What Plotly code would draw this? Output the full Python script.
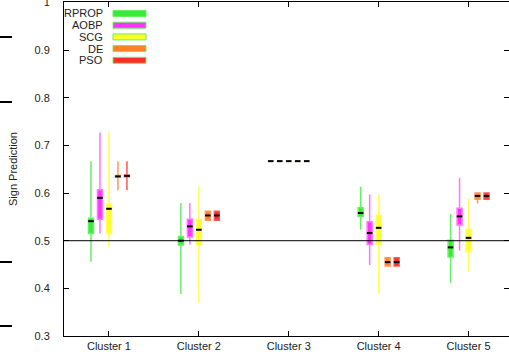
import plotly.graph_objects as go

clusters = ["Cluster 1", "Cluster 2", "Cluster 3", "Cluster 4", "Cluster 5"]
methods = ["RPROP", "AOBP", "SCG", "DE", "PSO"]
colors = ["#33ee33", "#ff33ff", "#ffff22", "#ff7f2a", "#ff2a2a"]
line_colors = ["#66f066", "#ff77ff", "#ffff55", "#ff9955", "#ff5555"]

# per method: values per cluster
lower = {
    "RPROP": [0.456, 0.388, 0.667, 0.523, 0.412],
    "AOBP":  [0.515, 0.492, 0.667, 0.449, 0.479],
    "SCG":   [0.486, 0.370, 0.667, 0.389, 0.435],
    "DE":    [0.606, 0.543, 0.667, 0.447, 0.578],
    "PSO":   [0.606, 0.543, 0.667, 0.447, 0.587],
}
q1 = {
    "RPROP": [0.515, 0.491, 0.667, 0.551, 0.466],
    "AOBP":  [0.545, 0.508, 0.667, 0.492, 0.533],
    "SCG":   [0.515, 0.491, 0.667, 0.492, 0.477],
    "DE":    [0.633, 0.543, 0.667, 0.447, 0.587],
    "PSO":   [0.634, 0.543, 0.667, 0.447, 0.587],
}
median = {
    "RPROP": [0.541, 0.500, 0.667, 0.558, 0.486],
    "AOBP":  [0.590, 0.530, 0.667, 0.516, 0.551],
    "SCG":   [0.567, 0.523, 0.667, 0.527, 0.506],
    "DE":    [0.635, 0.553, 0.667, 0.455, 0.594],
    "PSO":   [0.636, 0.553, 0.667, 0.455, 0.594],
}
q3 = {
    "RPROP": [0.547, 0.509, 0.667, 0.569, 0.501],
    "AOBP":  [0.607, 0.545, 0.667, 0.540, 0.568],
    "SCG":   [0.577, 0.545, 0.667, 0.553, 0.524],
    "DE":    [0.637, 0.562, 0.667, 0.464, 0.600],
    "PSO":   [0.638, 0.562, 0.667, 0.464, 0.600],
}
upper = {
    "RPROP": [0.667, 0.579, 0.667, 0.613, 0.556],
    "AOBP":  [0.727, 0.579, 0.667, 0.597, 0.632],
    "SCG":   [0.727, 0.614, 0.667, 0.597, 0.588],
    "DE":    [0.667, 0.562, 0.667, 0.464, 0.600],
    "PSO":   [0.667, 0.562, 0.667, 0.464, 0.600],
}
offsets = [-0.2, -0.1, 0.0, 0.1, 0.2]
y_ticks = [0.3, 0.4, 0.5, 0.6, 0.7, 0.8, 0.9, 1.0]
y_tick_labels = ["0.3", "0.4", "0.5", "0.6", "0.7", "0.8", "0.9", "1"]

FONT = "Liberation Sans, Arial, sans-serif"
fig = go.Figure()

for m, off, c, lc in zip(methods, offsets, colors, line_colors):
    xs = [i + 1 + off for i in range(len(clusters))]
    fig.add_trace(go.Box(
        x=xs, q1=q1[m], median=median[m], q3=q3[m],
        lowerfence=lower[m], upperfence=upper[m],
        width=0.055, whiskerwidth=0, fillcolor=c,
        line=dict(color=lc, width=1.5), boxpoints=False,
        showlegend=False, name=m, hoverinfo="skip",
    ))
    fig.add_trace(go.Scatter(
        x=xs, y=median[m], mode="markers",
        marker=dict(symbol="line-ew", size=4, line=dict(color="black", width=2)),
        showlegend=False, hoverinfo="skip",
    ))

# horizontal reference line at 0.5
fig.add_hline(y=0.5, line=dict(color="black", width=1))

# custom legend (text left of swatch, like the original)
shapes = []
annotations = []
ax_w, ax_h = 445.0, 334.0
for k, (m, c) in enumerate(zip(methods, colors)):
    yc = 336 - (13.5 + 11.7 * k)  # pixel from bottom
    yp = yc / ax_h
    annotations.append(dict(
        x=(105 - 64) / ax_w, y=yp, xref="paper", yref="paper", text=m,
        showarrow=False, xanchor="right", yanchor="middle",
        font=dict(family=FONT, size=11, color="#222")))
    shapes.append(dict(
        type="rect", xref="paper", yref="paper",
        x0=(113 - 64) / ax_w, x1=(146 - 64) / ax_w,
        y0=(yc - 3) / ax_h, y1=(yc + 3) / ax_h,
        fillcolor=c, line=dict(color="#66ee66", width=1)))

# stray marks at the left edge of the original image
for yy in [37, 102, 262, 326]:
    yp = (336 - yy) / ax_h
    shapes.append(dict(type="line", xref="paper", yref="paper",
                       x0=-64 / ax_w, x1=(12 - 64) / ax_w, y0=yp, y1=yp,
                       line=dict(color="black", width=2)))

fig.update_layout(
    width=509, height=360,
    margin=dict(l=64, r=0, t=2, b=24, autoexpand=False),
    plot_bgcolor="white", paper_bgcolor="white",
    shapes=list(fig.layout.shapes) + shapes,
    annotations=annotations,
    font=dict(family=FONT, size=11, color="#222"),
    xaxis=dict(
        range=[0.5, 5.45], tickmode="array",
        tickvals=[1, 2, 3, 4, 5], ticktext=clusters,
        ticks="inside", ticklen=5, tickcolor="black",
        showline=True, linecolor="black", linewidth=1, mirror="ticks",
        showgrid=False, zeroline=False, tickfont=dict(size=11),
        automargin=False, ticklabeloverflow="allow",
    ),
    yaxis=dict(
        range=[0.3, 1.001], tickmode="array",
        tickvals=y_ticks, ticktext=y_tick_labels,
        ticks="inside", ticklen=5, tickcolor="black",
        showline=True, linecolor="black", linewidth=1, mirror="ticks",
        showgrid=False, zeroline=False, tickfont=dict(size=11),
        ticklabelstandoff=11, automargin=False, ticklabeloverflow="allow",
        title=dict(text="Sign Prediction", font=dict(size=11), standoff=14),
    ),
)

fig.write_html("out.html", config={"displayModeBar": False},
               post_script="document.body.style.margin='0px';")
